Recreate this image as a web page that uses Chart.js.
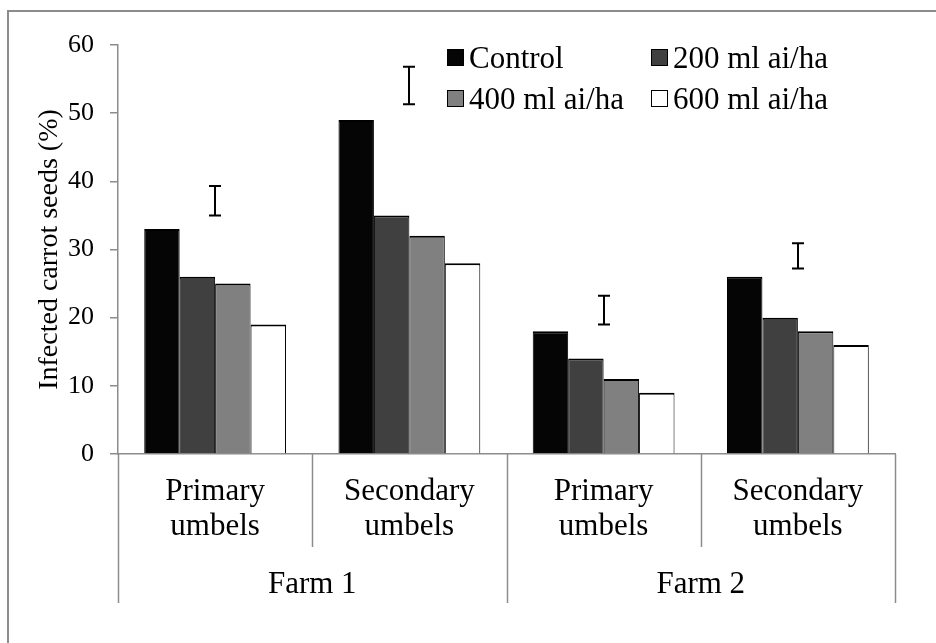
<!DOCTYPE html>
<html>
<head>
<meta charset="utf-8">
<script src="https://cdn.jsdelivr.net/npm/chart.js@4.4.0/dist/chart.umd.min.js"></script>
<style>
  html, body { margin: 0; padding: 0; background: #fff; overflow: hidden; }
  #frame { position: absolute; left: 7px; top: 10px; width: 1000px; height: 1000px;
           border-left: 2px solid #8c8c8c; border-top: 2px solid #8c8c8c; }
  #wrap { position: absolute; left: 0; top: 0; width: 936px; height: 643px; }
</style>
</head>
<body>
<div id="frame"></div>
<div id="wrap"><canvas id="seedChart" width="936" height="643"></canvas></div>
<script>
// data
const categories = [['Primary', 'umbels'], ['Secondary', 'umbels'], ['Primary', 'umbels'], ['Secondary', 'umbels']];
const farms = ['Farm 1', 'Farm 2'];
const seriesNames = ['Control', '200 ml ai/ha', '400 ml ai/ha', '600 ml ai/ha'];
const control = [33, 49, 18, 26];
const dose200 = [26, 35, 14, 20];
const dose400 = [25, 32, 11, 18];
const dose600 = [19, 28, 9, 16];
const lsdLow = [35, 51.3, 19, 27.2];   // LSD bar ends
const lsdHigh = [39.3, 56.8, 23.2, 30.9];
const yTicks = [0, 10, 20, 30, 40, 50, 60];

const serif = '"Liberation Serif", "Times New Roman", serif';
const axisGrey = '#8c8c8c';
const fills = ['#050505', '#404040', '#808080', '#ffffff'];

// I-shaped LSD bars above each group
const lsdBars = {
  id: 'lsdBars',
  afterDatasetsDraw(chart) {
    const { ctx, scales: { x, y } } = chart;
    ctx.save();
    ctx.strokeStyle = '#000';
    ctx.lineWidth = 2;
    lsdLow.forEach((lo, i) => {
      const px = Math.round(x.getPixelForValue(i));
      const y1 = y.getPixelForValue(lo);
      const y2 = y.getPixelForValue(lsdHigh[i]);
      ctx.beginPath();
      ctx.moveTo(px, y1); ctx.lineTo(px, y2);
      ctx.moveTo(px - 6, y1); ctx.lineTo(px + 6, y1);
      ctx.moveTo(px - 6, y2); ctx.lineTo(px + 6, y2);
      ctx.stroke();
    });
    ctx.restore();
  }
};

// two-level category axis (umbel type / farm)
const groupAxis = {
  id: 'groupAxis',
  afterDraw(chart) {
    const { ctx, chartArea, scales: { x } } = chart;
    const step = x.width / categories.length;
    const base = chartArea.bottom;
    ctx.save();
    ctx.strokeStyle = axisGrey;
    ctx.lineWidth = 1.5;
    for (let i = 0; i <= categories.length; i++) {
      const px = Math.round(x.left + i * step) + 0.5;
      const len = i % 2 === 0 ? 149 : 93;
      ctx.beginPath();
      ctx.moveTo(px, base);
      ctx.lineTo(px, base + len);
      ctx.stroke();
    }
    ctx.fillStyle = '#000';
    ctx.font = '31px ' + serif;
    ctx.textAlign = 'center';
    ctx.textBaseline = 'middle';
    categories.forEach((lines, i) => {
      const cx = x.getPixelForValue(i);
      lines.forEach((t, j) => ctx.fillText(t, cx, base + 38 + j * 35));
    });
    farms.forEach((f, k) => {
      const cx = x.left + (k * 2 + 1) * step;
      ctx.fillText(f, cx, base + 131);
    });
    ctx.restore();
  }
};

// legend in two columns inside the plot
const boxLegend = {
  id: 'boxLegend',
  afterDraw(chart) {
    const { ctx } = chart;
    const cols = [447, 651];
    const rows = [49, 90];
    ctx.save();
    ctx.font = '31px ' + serif;
    ctx.textAlign = 'left';
    ctx.textBaseline = 'alphabetic';
    chart.data.datasets.forEach((ds, i) => {
      const bx = cols[i % 2];
      const by = rows[Math.floor(i / 2)];
      ctx.fillStyle = ds.backgroundColor;
      ctx.fillRect(bx, by, 17, 17);
      ctx.strokeStyle = '#000';
      ctx.lineWidth = 1;
      ctx.strokeRect(bx + 0.5, by + 0.5, 16, 16);
      ctx.fillStyle = '#000';
      ctx.fillText(ds.label, bx + 22, by + 19);
    });
    ctx.restore();
  }
};

const values = [control, dose200, dose400, dose600];

new Chart(document.getElementById('seedChart').getContext('2d'), {
  type: 'bar',
  data: {
    labels: categories,
    datasets: seriesNames.map((name, i) => ({
      label: name,
      data: values[i],
      backgroundColor: fills[i],
      borderColor: '#000',
      borderWidth: { top: 2, left: 1, right: 1, bottom: 0 },
      categoryPercentage: 0.73,
      barPercentage: 1.0
    }))
  },
  options: {
    responsive: false,
    animation: false,
    layout: { padding: { top: 45, right: 41, bottom: 0, left: 0 } },
    plugins: { legend: { display: false }, tooltip: { enabled: false } },
    scales: {
      x: {
        ticks: { display: false },
        grid: { display: false },
        border: { color: axisGrey, width: 1.5 },
        afterFit(s) { s.height = 189; }
      },
      y: {
        min: 0,
        max: 60,
        afterBuildTicks(s) { s.ticks = yTicks.map(v => ({ value: v })); },
        ticks: { color: '#000', font: { family: serif, size: 26 }, padding: 16 },
        grid: { drawOnChartArea: false, tickLength: 8, color: axisGrey, lineWidth: 1.5 },
        border: { color: axisGrey, width: 1.5 },
        title: {
          display: true,
          text: 'Infected carrot seeds (%)',
          color: '#000',
          font: { family: serif, size: 28 },
          padding: { top: 33, bottom: 0 }
        },
        afterFit(s) { s.width = 118; }
      }
    }
  },
  plugins: [lsdBars, groupAxis, boxLegend]
});
</script>
</body>
</html>
